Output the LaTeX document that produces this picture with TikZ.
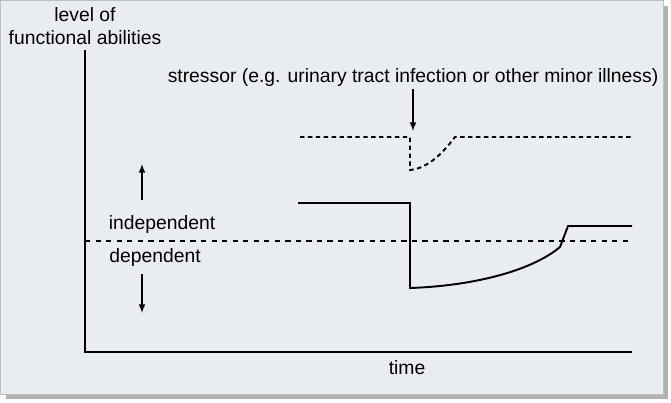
\documentclass[tikz,border=0pt]{standalone}
\usepackage{fontspec}
\setmainfont{Liberation Sans}
\definecolor{bgpanel}{HTML}{E9EDF2}
\begin{document}
\begin{tikzpicture}[x=0.02cm,y=-0.02cm,lbl/.style={font=\fontsize{11}{13.5}\selectfont,inner sep=1pt},axis/.style={line width=0.9pt},curve/.style={line width=1.1pt},arr/.style={-latex,line width=0.7pt}]
\useasboundingbox (0,0) rectangle (671,402);
\fill[gray!60] (6,6) rectangle (668,399);
\fill[bgpanel,draw=gray!50] (0,0) rectangle (663,394);

% axes
\coordinate (O) at (85,352);
\coordinate (Ytop) at (85,50);
\coordinate (Xend) at (632,352);
\draw[axis] (Ytop) -- (O) -- (Xend);
\node[lbl,align=center] (ylab) at (85,26) {level of\\functional abilities};
\node[lbl] (xlab) at (407,368) {time};

% threshold
\coordinate (T1) at (85,241);
\coordinate (T2) at (632,241);
\draw[dashed,line width=0.8pt] (T1) -- (T2);
\node[lbl] (indep) at (162,224) {independent};
\node[lbl] (dep) at (155,257) {dependent};
\coordinate (up1) at (142,200);
\coordinate (up2) at (142,164);
\coordinate (dn1) at (142,274);
\coordinate (dn2) at (142,313);
\draw[arr] (up1) -- (up2);
\draw[arr] (dn1) -- (dn2);

% stressor
\node[lbl] (stress) at (413,78) {stressor (e.g. urinary tract infection or other minor illness)};
\coordinate (hit) at (413,131);
\draw[arr] (stress.south -| hit) -- (hit);
\draw[densely dashed,dash pattern=on 2.5pt off 2pt,curve] (300,137) -- (410,137) -- (410,170) .. controls (430,168) and (445,150) .. (455,137) -- (632,137);

% abilities
\draw[curve] (298,203) -- (410,203) -- (410,288) .. controls (470,286) and (530,272) .. (560,247) -- (568,226) -- (632,226);
\end{tikzpicture}
\end{document}
